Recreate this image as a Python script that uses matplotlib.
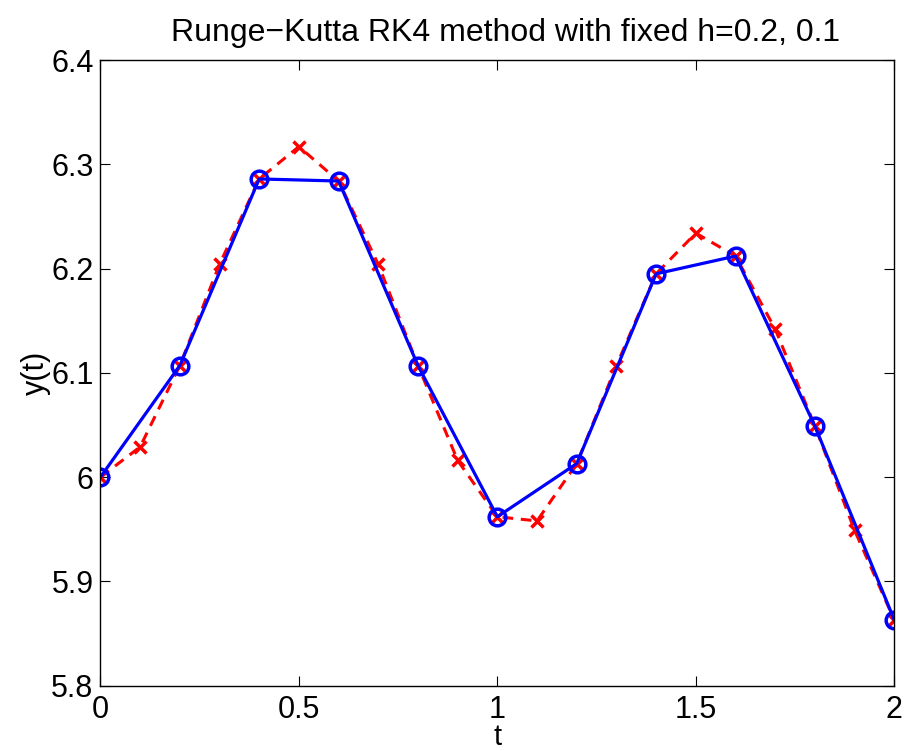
import matplotlib
matplotlib.use("Agg")
import matplotlib.pyplot as plt

plt.rcParams['font.family'] = ['Liberation Sans', 'DejaVu Sans']

t_h02 = [0.0, 0.2, 0.4, 0.6, 0.8, 1.0, 1.2, 1.4, 1.6, 1.8, 2.0]
y_h02 = [6.000, 6.107, 6.286, 6.284, 6.107, 5.962, 6.013, 6.195, 6.212, 6.049, 5.863]

t_h01 = [0.0, 0.1, 0.2, 0.3, 0.4, 0.5, 0.6, 0.7, 0.8, 0.9, 1.0,
         1.1, 1.2, 1.3, 1.4, 1.5, 1.6, 1.7, 1.8, 1.9, 2.0]
y_h01 = [6.000, 6.029, 6.107, 6.204, 6.286, 6.317, 6.284, 6.204, 6.107, 6.016, 5.962,
         5.958, 6.013, 6.107, 6.195, 6.234, 6.212, 6.142, 6.049, 5.949, 5.863]

xticks = [0, 0.5, 1, 1.5, 2]
xticklabels = ['0', '0.5', '1', '1.5', '2']
yticks = [5.8, 5.9, 6.0, 6.1, 6.2, 6.3, 6.4]
yticklabels = ['5.8', '5.9', '6', '6.1', '6.2', '6.3', '6.4']

fig = plt.figure(figsize=(9.13, 7.51), dpi=100)
ax = fig.add_axes([0.110, 0.087, 0.8695, 0.833])

ax.plot(t_h01, y_h01, color='red', linestyle=(0, (3.5, 2.5)), linewidth=2.2,
        marker='x', markersize=9, markeredgewidth=2.5)
ax.plot(t_h02, y_h02, color='blue', linestyle='-', linewidth=2.3,
        marker='o', markersize=12, markerfacecolor='none', markeredgewidth=2.5)

ax.set_xlim(0, 2)
ax.set_ylim(5.8, 6.4)
ax.set_xticks(xticks)
ax.set_xticklabels(xticklabels)
ax.set_yticks(yticks)
ax.set_yticklabels(yticklabels)
ax.tick_params(direction='in', top=True, right=True, labelsize=22, length=7, width=0.8)
ax.tick_params(axis='x', pad=7)
ax.tick_params(axis='y', pad=5)
for s in ax.spines.values():
    s.set_linewidth(1.0)

ax.set_title('Runge\u2212Kutta RK4 method with fixed h=0.2, 0.1', fontsize=23, pad=14, x=0.51)
ax.set_xlabel('t', fontsize=21, labelpad=-2)
ax.set_ylabel('y(t)', fontsize=22, labelpad=0)

fig.savefig('out.png', dpi=100)
